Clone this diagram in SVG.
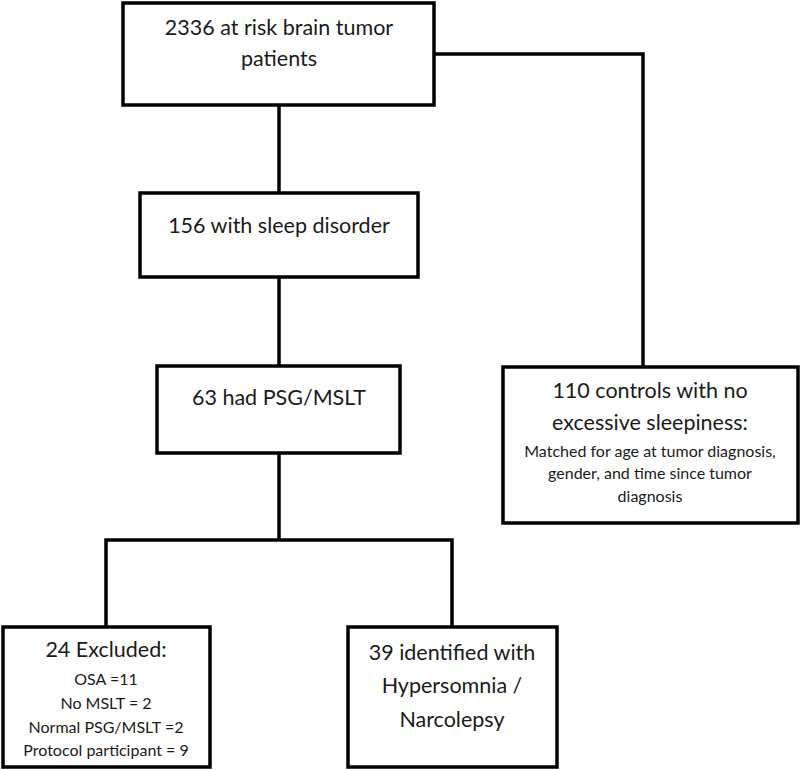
<svg xmlns="http://www.w3.org/2000/svg" width="800" height="770" viewBox="0 0 800 770">
<style>
.box{fill:#fff;stroke:#000;stroke-width:3.5}
.ln{fill:none;stroke:#000;stroke-width:3.5;stroke-linejoin:miter}
.t{font-family:Lato,"Open Sans","Liberation Sans",sans-serif;fill:#1a1a1a;text-anchor:middle}
.big{font-size:21.5px}
.sm{font-size:16px}
</style>
<rect width="800" height="770" fill="#fff"/>
<g id="connectors">
<path class="ln" d="M279 105 V193"/>
<path class="ln" d="M434 54 H643 V367"/>
<path class="ln" d="M279 277 V366"/>
<path class="ln" d="M279 453 V540"/>
<path class="ln" d="M106 627 V540 H452 V627"/>
</g>
<g id="n1">
<rect class="box" x="123" y="3" width="311" height="102"/>
<text class="t big" x="279" y="35">2336 at risk brain tumor</text>
<text class="t big" x="279" y="66">patients</text>
</g>
<g id="n2">
<rect class="box" x="140" y="193" width="278" height="84"/>
<text class="t big" x="279" y="233">156 with sleep disorder</text>
</g>
<g id="n3">
<rect class="box" x="157" y="366" width="243" height="87"/>
<text class="t big" x="279" y="405">63 had PSG/MSLT</text>
</g>
<g id="n4">
<rect class="box" x="503" y="367" width="295" height="156"/>
<text class="t big" x="650" y="398">110 controls with no</text>
<text class="t big" x="650" y="430">excessive sleepiness:</text>
<text class="t sm" x="650" y="457">Matched for age at tumor diagnosis,</text>
<text class="t sm" x="650" y="479">gender, and time since tumor</text>
<text class="t sm" x="650" y="502">diagnosis</text>
</g>
<g id="n5">
<rect class="box" x="3" y="627" width="207" height="140"/>
<text class="t big" x="106" y="657">24 Excluded:</text>
<text class="t sm" x="106" y="685">OSA =11</text>
<text class="t sm" x="106" y="709">No MSLT = 2</text>
<text class="t sm" x="106" y="733">Normal PSG/MSLT =2</text>
<text class="t sm" x="106" y="756">Protocol participant = 9</text>
</g>
<g id="n6">
<rect class="box" x="348" y="627" width="209" height="140"/>
<text class="t big" x="452" y="660">39 identified with</text>
<text class="t big" x="452" y="693">Hypersomnia /</text>
<text class="t big" x="452" y="727">Narcolepsy</text>
</g>
</svg>
